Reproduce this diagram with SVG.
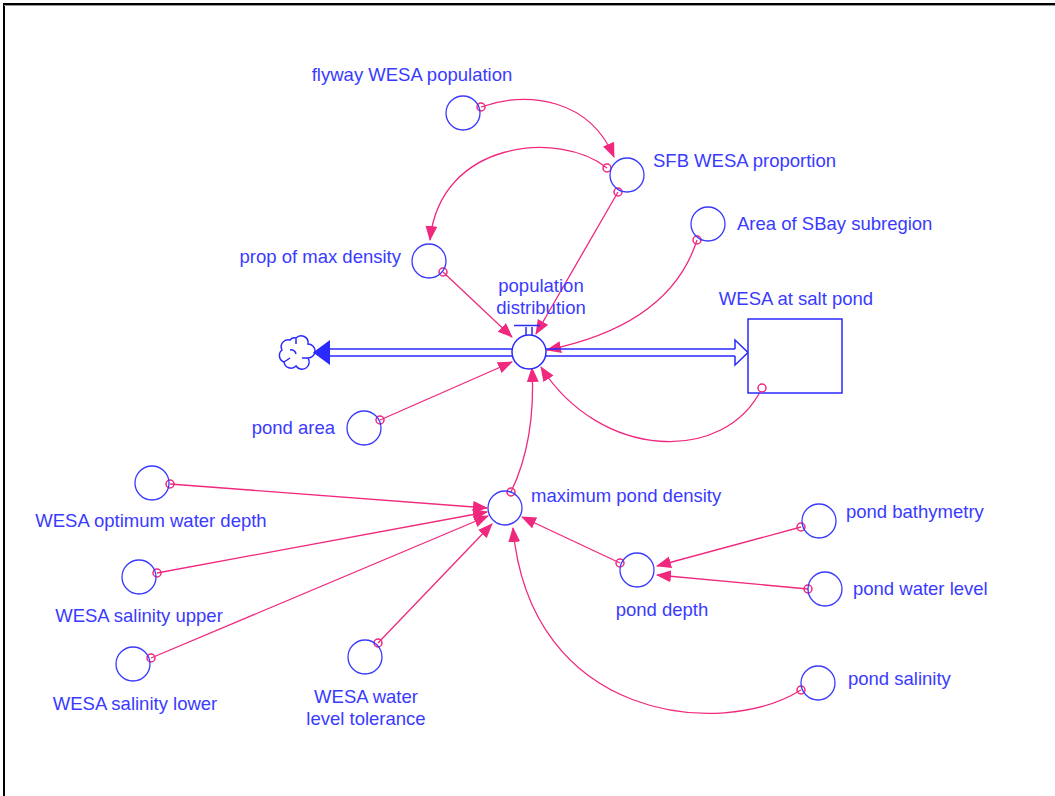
<svg xmlns="http://www.w3.org/2000/svg" width="1055" height="796" viewBox="0 0 1055 796">
<style>
text{font-family:"Liberation Sans",Arial,sans-serif;font-size:18.5px;fill:#3a3aff}
.aux{fill:none;stroke:#3a3aff;stroke-width:1.3}
.lk{fill:none;stroke:#f0287e;stroke-width:1.3;marker-end:url(#ah)}
.o{fill:none;stroke:#f0287e;stroke-width:1.5}
.pipe{fill:none;stroke:#2a2aff;stroke-width:1.5}
</style>
<defs>
<marker id="ah" markerUnits="userSpaceOnUse" markerWidth="16" markerHeight="14" refX="14" refY="6" orient="auto">
<path d="M0,0 L15,6 L0,12 Z" fill="#f0287e"/>
</marker>
</defs>
<rect x="0" y="0" width="1055" height="796" fill="#fff"/>
<path d="M4,796 V4 H1055" fill="none" stroke="#000" stroke-width="2"/>
<path d="M4,5.5 H1055" fill="none" stroke="#999" stroke-width="1"/>

<g id="connectors">
<path class="lk" d="M481,107 C530,90 590,100 614,157"/>
<path class="lk" d="M607,168 C560,130 440,140 430,240"/>
<path class="lk" d="M618,192 L536,334"/>
<path class="lk" d="M443,272 L512,337"/>
<path class="lk" d="M697,240 Q670,325 547,350"/>
<path class="lk" d="M762,388 C725,465 600,460 541,367"/>
<path class="lk" d="M380,420 L512,362"/>
<path class="lk" d="M511,492 Q536,440 532,368"/>
<path class="lk" d="M170,484 L487,508"/>
<path class="lk" d="M157,573 L487,512"/>
<path class="lk" d="M151,658 L488,516"/>
<path class="lk" d="M378,643 L492,524"/>
<path class="lk" d="M620,563 L522,517"/>
<path class="lk" d="M801,690 C720,740 530,720 513,528"/>
<path class="lk" d="M801,527 L657,566"/>
<path class="lk" d="M808,589 L657,575"/>
<g class="o">
<circle cx="481" cy="107" r="4"/>
<circle cx="607" cy="168" r="4"/>
<circle cx="618" cy="192" r="4"/>
<circle cx="443" cy="272" r="4"/>
<circle cx="697" cy="240" r="4"/>
<circle cx="762" cy="388" r="4"/>
<circle cx="380" cy="420" r="4"/>
<circle cx="511" cy="492" r="4"/>
<circle cx="170" cy="484" r="4"/>
<circle cx="157" cy="573" r="4"/>
<circle cx="151" cy="658" r="4"/>
<circle cx="378" cy="643" r="4"/>
<circle cx="620" cy="563" r="4"/>
<circle cx="801" cy="690" r="4"/>
<circle cx="801" cy="527" r="4"/>
<circle cx="808" cy="589" r="4"/>
</g>
</g>

<g id="flows">
<path class="pipe" d="M512,349 H330 M512,356 H330"/>
<path d="M330,340 L313,352.5 L330,365 Z" fill="#2a2aff"/>
<path class="pipe" d="M546,349 H735 M546,356 H735 M735,349 V340 L748,352.5 L735,365 V356"/>
<path class="pipe" d="M514,325.5 H540 M526,327 V335 M532,327 V335"/>
</g>

<g id="cloud">
<path class="pipe" stroke-width="1.3" d="M296,338 a7,7 0 0 1 12,6 a7,7 0 0 1 0,14 a7,7 0 0 1 -12,8 a7,7 0 0 1 -12,-4 a7,7 0 0 1 -2,-12 a7,7 0 0 1 8,-10 a6,6 0 0 1 6,-2 z M296,338 v6 M308,358 h-6 M284,362 l6,-4 M290,350 a5,5 0 0 1 6,4"/>
</g>

<g id="flyway"><circle class="aux" cx="463" cy="113" r="17"/><text x="412" y="81" text-anchor="middle">flyway WESA population</text></g>
<g id="sfb"><circle class="aux" cx="627" cy="175" r="17"/><text x="653" y="167">SFB WESA proportion</text></g>
<g id="propmax"><circle class="aux" cx="429" cy="261" r="17"/><text x="401" y="263" text-anchor="end">prop of max density</text></g>
<g id="area"><circle class="aux" cx="708" cy="224" r="17"/><text x="737" y="230">Area of SBay subregion</text></g>
<g id="popdist"><circle cx="529" cy="352" r="17" fill="#fff" stroke="#2a2aff" stroke-width="1.5"/><text x="541" y="292" text-anchor="middle">population</text><text x="541" y="314" text-anchor="middle">distribution</text></g>
<g id="stock"><rect x="748" y="319" width="94" height="74" fill="#fff" stroke="#2a2aff" stroke-width="1.5"/><circle class="o" cx="762" cy="388" r="4"/><text x="796" y="305" text-anchor="middle">WESA at salt pond</text></g>
<g id="pondarea"><circle class="aux" cx="364" cy="428" r="17"/><text x="335" y="434" text-anchor="end">pond area</text></g>
<g id="maxpond"><circle class="aux" cx="505" cy="508" r="17"/><text x="531" y="502">maximum pond density</text></g>
<g id="optdepth"><circle class="aux" cx="152" cy="483" r="17"/><text x="151" y="527" text-anchor="middle">WESA optimum water depth</text></g>
<g id="salup"><circle class="aux" cx="139" cy="577" r="17"/><text x="139" y="622" text-anchor="middle">WESA salinity upper</text></g>
<g id="sallow"><circle class="aux" cx="133" cy="664" r="17"/><text x="135" y="710" text-anchor="middle">WESA salinity lower</text></g>
<g id="wlt"><circle class="aux" cx="365" cy="657" r="17"/><text x="366" y="703" text-anchor="middle">WESA water</text><text x="366" y="725" text-anchor="middle">level tolerance</text></g>
<g id="ponddepth"><circle class="aux" cx="637" cy="570" r="17"/><text x="662" y="616" text-anchor="middle">pond depth</text></g>
<g id="bathy"><circle class="aux" cx="819" cy="521" r="17"/><text x="846" y="518">pond bathymetry</text></g>
<g id="waterlevel"><circle class="aux" cx="825" cy="589" r="17"/><text x="853" y="595">pond water level</text></g>
<g id="salinity"><circle class="aux" cx="818" cy="683" r="17"/><text x="848" y="685">pond salinity</text></g>
</svg>
